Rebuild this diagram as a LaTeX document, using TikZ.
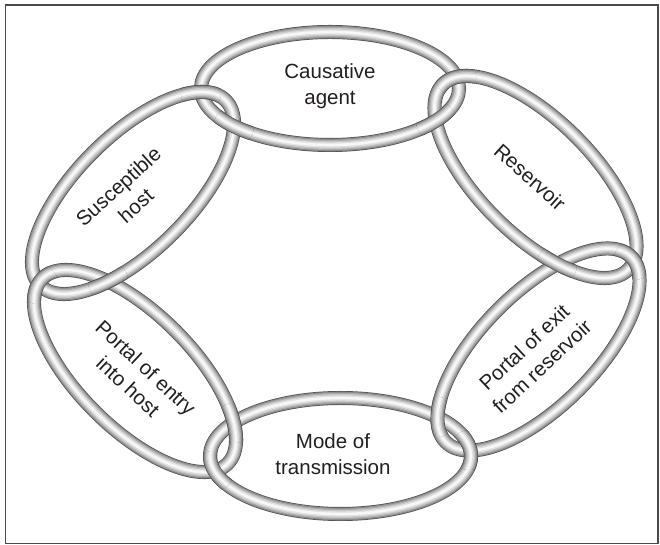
\documentclass[tikz,border=0pt]{standalone}
\usepackage{fontspec}
\setmainfont{Liberation Sans}
\definecolor{frame}{HTML}{4A4A4A}
\definecolor{ink}{HTML}{231F20}
\definecolor{tubeA}{HTML}{4F4F4F}
\definecolor{tubeB}{HTML}{8A8A8A}
\definecolor{tubeC}{HTML}{A9A9A9}
\definecolor{tubeD}{HTML}{C6C6C6}
\definecolor{tubeE}{HTML}{E0E0E0}
\definecolor{tubeF}{HTML}{F7F7F7}
% one chain link: centre x, centre y, tilt, half length, half width
\newcommand{\drawlink}[5]{%
  \foreach \w/\c in {14/tubeA,12.6/tubeB,10.4/tubeC,8/tubeD,5.4/tubeE,2.6/tubeF}{%
    \draw[line width=\w pt, draw=\c, rotate around={#3:(#1,#2)}]
      (#1,#2) ellipse [x radius=#4, y radius=#5];
  }}
\newcommand{\linkAgent}{\drawlink{330}{456.5}{0}{129}{56.5}}
\newcommand{\linkReservoir}{\drawlink{535.5}{368}{-45}{131}{57}}
\newcommand{\linkExit}{\drawlink{538.5}{195.5}{45}{131}{57}}
\newcommand{\linkMode}{\drawlink{340.5}{89}{0}{130.5}{58}}
\newcommand{\linkEntry}{\drawlink{135}{174}{-45}{131}{57}}
\newcommand{\linkHost}{\drawlink{133}{352}{45}{131}{57}}
% redraw a link on top inside a small disc round one crossing
\newcommand{\overat}[3]{%
  \begin{scope}
    \clip (#1,#2) circle [radius=20];
    #3
  \end{scope}}
\tikzset{
  label/.style={text=ink, font=\fontsize{20.5}{26}\selectfont, align=center, inner sep=0pt}
}
\begin{document}
\begin{tikzpicture}[x=1pt,y=1pt]
  \useasboundingbox (0,0) rectangle (660,545);
  \fill[white] (0,0) rectangle (660,545);
  \draw[frame, line width=1.8pt] (5.5,1.5) rectangle (658,540);

  % the six links of the chain
  \linkAgent
  \linkReservoir
  \linkExit
  \linkMode
  \linkEntry
  \linkHost

  % interlocking: which link passes over at each crossing
  \overat{201}{453}{\linkHost}
  \overat{234}{419}{\linkAgent}
  \overat{456}{468}{\linkReservoir}
  \overat{436}{424}{\linkAgent}
  \overat{38}{261}{\linkEntry}
  \overat{108}{264}{\linkHost}
  \overat{634}{285}{\linkExit}
  \overat{557}{281}{\linkReservoir}
  \overat{214}{74}{\linkMode}
  \overat{234}{122}{\linkEntry}
  \overat{470}{95}{\linkMode}
  \overat{437}{128}{\linkExit}

  % labels
  \node[label] (agent) at (330,459) {Causative\\agent};
  \node[label, rotate=-42] (reservoir) at (530,368) {Reservoir};
  \node[label, rotate=43] (exit) at (533,188) {Portal of exit\\from reservoir};
  \node[label] (mode) at (333,91) {Mode of\\transmission};
  \node[label, rotate=-43] (entry) at (137,168) {Portal of entry\\into host};
  \node[label, rotate=42] (host) at (127,349) {Susceptible\\host};
\end{tikzpicture}
\end{document}
